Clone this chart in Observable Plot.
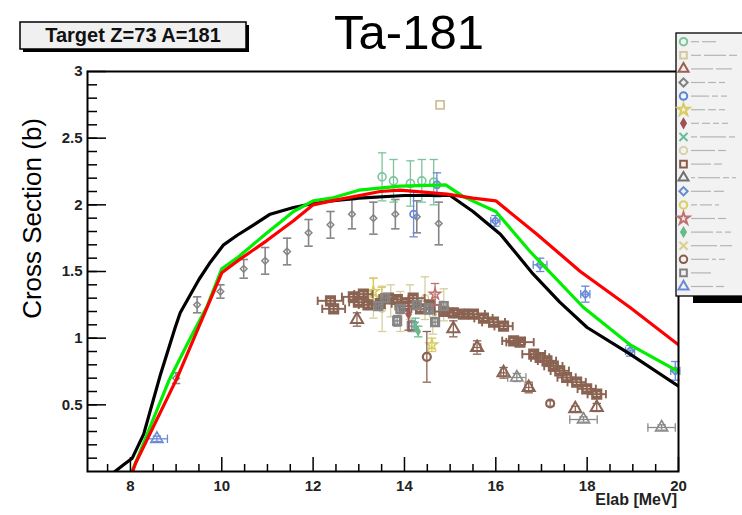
<!DOCTYPE html>
<html><head><meta charset="utf-8">
<script src="https://cdn.jsdelivr.net/npm/d3@7"></script>
<script src="https://cdn.jsdelivr.net/npm/@observablehq/plot@0.6"></script>
<style>
body{margin:0;background:#fff;}
#wrap{position:relative;width:742px;height:515px;overflow:hidden;font-family:"Liberation Sans",Arial,sans-serif;}
#chart,#overlay{position:absolute;left:0;top:0;}
</style></head>
<body><div id="wrap"><div id="chart"></div><svg id="overlay" width="742" height="515"></svg></div>
<script>
// ---------- data ----------
const xMajorTicks = [8, 10, 12, 14, 16, 18, 20];
const xMinorTicks = [7.5, 8.5, 9, 9.5, 10.5, 11, 11.5, 12.5, 13, 13.5, 14.5, 15, 15.5, 16.5, 17, 17.5, 18.5, 19, 19.5];
const yMajorTicks = [0.5, 1, 1.5, 2, 2.5, 3];
const yMinorTicks = d3.range(1, 30).map(i => i / 10);
const yTickLabels = ["0.5", "1", "1.5", "2", "2.5", "3"];

// model curves [E, sigma]
const blackCurve = [[7.66,0],[7.85,0.05],[8.04,0.1],[8.29,0.28],[8.66,0.73],[8.98,1.08],[9.09,1.19],[9.5,1.44],[9.75,1.57],[10.04,1.7],[10.33,1.77],[10.7,1.85],[11.06,1.93],[11.57,1.98],[12.0,2.01],[12.4,2.03],[13.0,2.05],[14.0,2.07],[15.0,2.07],[15.5,1.95],[16.1,1.78],[16.82,1.48],[17.4,1.27],[18.0,1.08],[18.94,0.88],[20,0.64]];
const greenCurve = [[8.03,0],[8.07,0.03],[8.84,0.68],[9.31,1.0],[9.68,1.24],[10.0,1.52],[10.33,1.6],[10.92,1.77],[11.57,1.95],[12.0,2.03],[12.4,2.05],[13.0,2.11],[13.9,2.14],[14.9,2.15],[15.3,2.06],[16.0,1.95],[16.75,1.65],[17.92,1.23],[18.94,0.95],[20,0.75]];
const redCurve = [[8.05,0],[8.11,0.06],[9.02,0.7],[10.0,1.49],[10.39,1.59],[10.98,1.73],[11.57,1.88],[12.0,2.0],[12.4,2.03],[13.47,2.1],[13.9,2.11],[14.93,2.08],[15.5,2.05],[16.0,2.03],[16.9,1.78],[17.85,1.5],[18.94,1.23],[20,0.95]];

// measured points [E, sigma, dSigma, dE]
const s1GreenCircle = [[13.51,2.21,0.18,0],[13.76,2.18,0.16,0],[14.13,2.16,0.17,0],[14.38,2.18,0.16,0],[14.64,2.17,0.17,0]];
const s2TanSquare = [[14.78,2.75,0,0]];
const s3BrownTriangle = [[12.96,1.14,0.05,0],[15.07,1.07,0.06,0],[15.59,0.93,0.05,0.08],[16.17,0.74,0.04,0.06],[16.72,0.63,0.04,0.08],[17.74,0.47,0.02,0],[18.21,0.48,0.03,0]];
const s4GrayDiamond = [[9.0,0.7,0.04,0],[9.46,1.25,0.06,0],[9.97,1.35,0.05,0],[10.48,1.52,0.07,0],[10.95,1.58,0.1,0],[11.43,1.65,0.1,0],[11.9,1.79,0.1,0],[12.38,1.85,0.1,0],[12.85,1.93,0.11,0],[13.32,1.9,0.12,0],[13.8,1.93,0.11,0],[14.27,1.91,0.12,0],[14.75,1.86,0.16,0]];
const s5BlueCircle = [[14.2,1.93,0.17,0],[14.71,2.15,0.09,0]];
const s6YellowStar = [[13.32,1.35,0.1,0],[13.5,1.3,0.08,0],[14.6,0.95,0.05,0]];
const s7MauveDiamond = [[14.09,1.18,0.12,0]];
const s8GreenX = [[14.24,1.1,0.05,0]];
const s9TanCircle = [[13.32,1.3,0.15,0],[13.51,1.22,0.17,0],[13.7,1.28,0.12,0],[13.91,1.2,0.15,0],[14.12,1.27,0.13,0],[14.45,1.3,0.16,0],[14.62,1.18,0.15,0],[14.86,1.25,0.12,0]];
const s10BrownSquare = [[12.38,1.28,0.02,0.28],[12.45,1.22,0.02,0.25],[12.88,1.31,0.02,0.25],[12.99,1.27,0.02,0.2],[13.1,1.33,0.02,0.2],[13.2,1.25,0.02,0.2],[13.47,1.26,0.02,0.25],[13.65,1.3,0.02,0.2],[13.84,1.29,0.02,0.25],[14.0,1.24,0.02,0.2],[14.19,1.3,0.02,0.25],[14.35,1.22,0.02,0.2],[14.56,1.25,0.02,0.25],[14.86,1.2,0.02,0.2],[15.07,1.19,0.02,0.25],[15.29,1.18,0.02,0.2],[15.51,1.18,0.02,0.25],[15.73,1.15,0.02,0.2],[15.95,1.12,0.02,0.25],[16.17,1.09,0.02,0.2],[16.39,0.98,0.02,0.25],[16.53,0.97,0.02,0.3],[16.83,0.88,0.02,0.25],[16.97,0.855,0.02,0.2],[17.12,0.83,0.02,0.2],[17.26,0.79,0.02,0.2],[17.4,0.755,0.02,0.2],[17.55,0.705,0.02,0.2],[17.77,0.67,0.02,0.2],[17.99,0.62,0.02,0.2],[18.21,0.58,0.02,0.2]];
const s11GrayTriangle = [[16.46,0.705,0.03,0.2],[17.92,0.39,0.02,0.3],[19.63,0.33,0.02,0.3]];
const s12BlueDiamond = [[15.99,1.88,0.04,0.1],[16.97,1.55,0.05,0.15],[17.96,1.33,0.06,0.1],[18.94,0.905,0.04,0.1],[19.93,0.755,0.07,0.1]];
const s14MauveStar = [[14.67,1.33,0.08,0]];
const s15GreenDiamond = [[14.3,1.05,0.04,0]];
const s17BrownCircle = [[14.49,0.86,0.19,0],[17.19,0.51,0.02,0]];
const s18GraySquare = [[13.43,1.24,0.03,0.05],[13.58,1.3,0.03,0.05],[13.84,1.13,0.04,0.05],[13.91,1.22,0.03,0.05],[14.16,1.09,0.04,0.05],[14.27,1.25,0.03,0.05],[14.53,1.22,0.04,0.05],[14.67,1.12,0.03,0.05],[14.86,1.24,0.03,0.05]];
const s19BlueTriangle = [[8.58,0.245,0.02,0.23]];

const legendSymbols = ["circle","square","triangle","diamond2","circle","star","diamond","times","circle","square","triangle","diamond2","circle","star","diamond","times","circle","square","triangle"];
const legendColors = ["#7cc49c","#d6c8a0","#9a6050","#808080","#5a86d6","#d8cc60","#a05050","#66bb99","#d8d0a8","#8a5a48","#707070","#6a8ad0","#d8d060","#c07070","#66bb88","#d8d090","#8a5a48","#808080","#6a8ad6"];
const legendLineLengths = [[8,14],[10,22,8],[22,16],[14,8,6],[18,6,6],[14,8,6],[8,8,6,6],[6,26,6],[24,8],[20,8],[4,22,6,4],[20,10],[6,12,4],[24,8],[22,6,6],[26,12],[18,4,6],[20],[22,8]];

// ---------- helpers ----------
const hcap = {draw(ctx, size){ const r = Math.sqrt(size/Math.PI); ctx.moveTo(-r,0); ctx.lineTo(r,0); }};
const vcap = {draw(ctx, size){ const r = Math.sqrt(size/Math.PI); ctx.moveTo(0,-r); ctx.lineTo(0,r); }};

function series(data, color, symbol, {r = 4, sw = 1.5, fill = "none", bw = 1.3} = {}) {
  const ey = data.filter(d => d[2] > 0);
  const ex = data.filter(d => d[3] > 0);
  const fx = d => d[0], fy = d => d[1];
  return [
    Plot.ruleX(ey, {x: fx, y1: d => d[1]-d[2], y2: d => d[1]+d[2], stroke: color, strokeWidth: bw}),
    Plot.dot(ey, {x: fx, y: d => d[1]-d[2], symbol: hcap, r: 4.2, stroke: color, strokeWidth: bw}),
    Plot.dot(ey, {x: fx, y: d => d[1]+d[2], symbol: hcap, r: 4.2, stroke: color, strokeWidth: bw}),
    Plot.ruleY(ex, {y: fy, x1: d => d[0]-d[3], x2: d => d[0]+d[3], stroke: color, strokeWidth: bw}),
    Plot.dot(ex, {x: d => d[0]-d[3], y: fy, symbol: vcap, r: 4.2, stroke: color, strokeWidth: bw}),
    Plot.dot(ex, {x: d => d[0]+d[3], y: fy, symbol: vcap, r: 4.2, stroke: color, strokeWidth: bw}),
    Plot.dot(data, {x: fx, y: fy, symbol, r, stroke: fill === "none" ? color : "none", fill, strokeWidth: sw})
  ];
}

const frameH = 515 - 71 - 44, frameW = 742 - 87 - 64;
const bold = {fontWeight: "bold", fontSize: 15, fill: "#222"};

const chart = Plot.plot({
  width: 742, height: 515,
  marginLeft: 87, marginRight: 64, marginTop: 71, marginBottom: 44,
  x: {domain: [7.06, 20], axis: null},
  y: {domain: [0, 3], axis: null},
  style: {fontFamily: "Liberation Sans, Arial, sans-serif", background: "transparent", overflow: "visible"},
  marks: [
    ...series(s9TanCircle, "#d6cfa0", "circle", {r: 3.5}),
    ...series(s6YellowStar, "#d8cc60", "star", {r: 3.5}),
    ...series(s10BrownSquare, "#8a6352", "square", {r: 4.8, sw: 2.6, bw: 1.9}),
    ...series(s18GraySquare, "#858585", "square", {r: 4.5, sw: 2.2}),
    ...series(s7MauveDiamond, "#a05858", "diamond", {r: 3.5, fill: "#a05858"}),
    ...series(s14MauveStar, "#c07070", "star", {r: 3.5}),
    ...series(s8GreenX, "#66bb99", "times", {r: 3}),
    ...series(s15GreenDiamond, "#66bb88", "diamond", {r: 3, fill: "#66bb88"}),
    ...series(s3BrownTriangle, "#8a6352", "triangle", {r: 4.5, sw: 2}),
    ...series(s17BrownCircle, "#8a6352", "circle", {r: 4, sw: 2.2}),
    ...series(s11GrayTriangle, "#8a8a8a", "triangle", {r: 4.5, sw: 1.6}),
    ...series(s4GrayDiamond, "#858585", "diamond2", {r: 3, sw: 1.5, bw: 1.6}),
    ...series(s1GreenCircle, "#7cc49c", "circle", {r: 4, sw: 1.6}),
    ...series(s2TanSquare, "#cfc09a", "square", {r: 4.5, sw: 1.8}),
    ...series(s5BlueCircle, "#6a8ad6", "circle", {r: 3.5, sw: 1.8}),
    ...series(s12BlueDiamond, "#6a8ad6", "diamond2", {r: 3.5, sw: 1.8}),
    ...series(s19BlueTriangle, "#6a8ad6", "triangle", {r: 4.5, sw: 1.6}),
    Plot.line(blackCurve, {x: d => d[0], y: d => d[1], stroke: "#000", strokeWidth: 3.2, clip: true}),
    Plot.line(greenCurve, {x: d => d[0], y: d => d[1], stroke: "#00ee00", strokeWidth: 3.2, clip: true}),
    Plot.line(redCurve, {x: d => d[0], y: d => d[1], stroke: "#ff0000", strokeWidth: 3.2, clip: true}),
    Plot.ruleX(xMinorTicks, {x: d => d, insetTop: frameH - 7, stroke: "#000", strokeWidth: 1.5}),
    Plot.ruleX(xMajorTicks, {x: d => d, insetTop: frameH - 14, stroke: "#000", strokeWidth: 1.5}),
    Plot.ruleY(yMinorTicks, {y: d => d, insetRight: frameW - 10, stroke: "#000", strokeWidth: 1.5}),
    Plot.ruleY(yMajorTicks, {y: d => d, insetRight: frameW - 19, stroke: "#000", strokeWidth: 1.5}),
    Plot.text(xMajorTicks, {x: d => d, frameAnchor: "bottom", dy: 9, lineAnchor: "top", text: d => String(d), ...bold}),
    Plot.text(yMajorTicks, {y: d => d, frameAnchor: "left", dx: -5, textAnchor: "end", text: (d, i) => yTickLabels[i], ...bold}),
    Plot.frame({stroke: "#000", strokeWidth: 2})
  ]
});
document.getElementById("chart").appendChild(chart);

// ---------- overlay: title, labels, legend ----------
const ov = d3.select("#overlay").style("font-family", "Liberation Sans, Arial, sans-serif");
ov.append("text").attr("x", 409).attr("y", 49).attr("text-anchor", "middle").attr("font-size", 49).attr("fill", "#000").text("Ta-181");
ov.append("rect").attr("x", 23).attr("y", 25).attr("width", 226).attr("height", 27).attr("fill", "#000");
ov.append("rect").attr("x", 20).attr("y", 22).attr("width", 226).attr("height", 27).attr("fill", "#f0f0f0").attr("stroke", "#000").attr("stroke-width", 1.5);
ov.append("text").attr("x", 133).attr("y", 42).attr("text-anchor", "middle").attr("font-size", 20).attr("font-weight", "bold").attr("fill", "#111").text("Target Z=73 A=181");
ov.append("text").attr("transform", "translate(41,118) rotate(-90)").attr("text-anchor", "end").attr("font-size", 26).attr("fill", "#000").text("Cross Section (b)");
ov.append("text").attr("x", 677).attr("y", 505).attr("text-anchor", "end").attr("font-size", 16).attr("font-weight", "bold").attr("fill", "#222").text("Elab [MeV]");

// legend box
ov.append("rect").attr("x", 693).attr("y", 296).attr("width", 60).attr("height", 7).attr("fill", "#000");
ov.append("rect").attr("x", 676).attr("y", 33).attr("width", 80).attr("height", 263).attr("fill", "#f2f2f2").attr("stroke", "#000").attr("stroke-width", 1.3);
const symMap = {circle: d3.symbolCircle, square: d3.symbolSquare, triangle: d3.symbolTriangle, diamond2: d3.symbolDiamond2, star: d3.symbolStar, diamond: d3.symbolDiamond, times: d3.symbolTimes};
const filledLegend = new Set([6, 14]);
legendSymbols.forEach((s, i) => {
  const y = 41.7 + i * 13.6;
  const g = ov.append("g").attr("transform", `translate(683.5,${y})`);
  g.append("path").attr("d", d3.symbol(symMap[s], 44)())
    .attr("fill", filledLegend.has(i) ? legendColors[i] : "none")
    .attr("stroke", filledLegend.has(i) ? "none" : legendColors[i])
    .attr("stroke-width", 2);
  let x = 691;
  legendLineLengths[i].forEach(len => {
    ov.append("line").attr("x1", x).attr("x2", x + len).attr("y1", y).attr("y2", y).attr("stroke", "#b4b4b4").attr("stroke-width", 1.2);
    x += len + 3;
  });
});
</script>
</body></html>
